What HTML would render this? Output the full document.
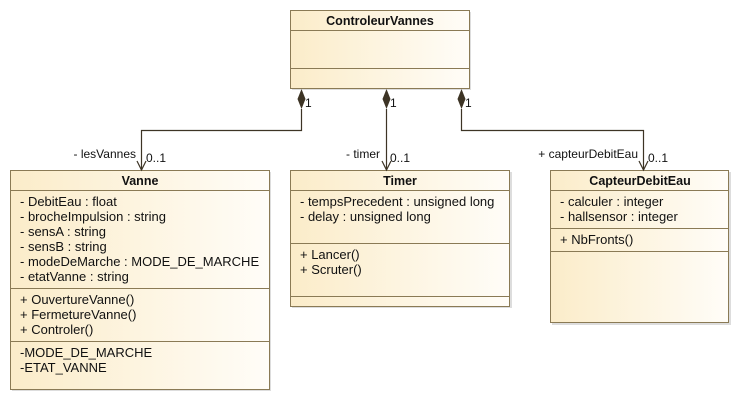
<!DOCTYPE html>
<html><head><meta charset="utf-8"><style>
html,body{margin:0;padding:0;background:#fff;}
svg{display:block;}
text{font-family:"Liberation Sans",sans-serif;font-size:13px;fill:#111;}
.b{font-weight:bold;font-size:12.5px;}
.l{font-size:12px;}
</style></head><body>
<svg width="741" height="401" viewBox="0 0 741 401" xmlns="http://www.w3.org/2000/svg">
<defs>
<linearGradient id="g" x1="0" x2="1" y1="0" y2="0">
<stop offset="0" stop-color="#fbecc9"/><stop offset="1" stop-color="#fffdf8"/>
</linearGradient>
</defs>
<g stroke="#8a7a55" stroke-width="1">
<!-- shadows -->
<rect x="292" y="12" width="179" height="78" fill="#ddd" stroke="none"/>
<rect x="12" y="172" width="259" height="219" fill="#ddd" stroke="none"/>
<rect x="292" y="172" width="220" height="136" fill="#ddd" stroke="none"/>
<rect x="552" y="172" width="179" height="153" fill="#ddd" stroke="none"/>
<rect x="290.5" y="10.5" width="179" height="78" fill="url(#g)"/>
<line x1="290" y1="30.5" x2="470" y2="30.5"/><line x1="290" y1="68.5" x2="470" y2="68.5"/>
<rect x="10.5" y="170.5" width="259" height="219" fill="url(#g)"/>
<line x1="10" y1="190.5" x2="270" y2="190.5"/><line x1="10" y1="288.5" x2="270" y2="288.5"/><line x1="10" y1="341.5" x2="270" y2="341.5"/>
<rect x="290.5" y="170.5" width="219" height="136" fill="url(#g)"/>
<line x1="290" y1="190.5" x2="510" y2="190.5"/><line x1="290" y1="243.5" x2="510" y2="243.5"/><line x1="290" y1="296.5" x2="510" y2="296.5"/>
<rect x="550.5" y="170.5" width="178" height="152" fill="url(#g)"/>
<line x1="550" y1="190.5" x2="729" y2="190.5"/><line x1="550" y1="228.5" x2="729" y2="228.5"/><line x1="550" y1="251.5" x2="729" y2="251.5"/>
</g>
<g stroke="#3d3425" fill="none" stroke-width="1.2">
<polyline points="301.5,109 301.5,130.5 141.5,130.5 141.5,170"/>
<line x1="386.5" y1="109" x2="386.5" y2="170"/>
<polyline points="461.5,109 461.5,130.5 643.5,130.5 643.5,170"/>
<polyline points="137,161 141.5,170 146,161"/>
<polyline points="382,161 386.5,170 391,161"/>
<polyline points="639,161 643.5,170 648,161"/>
</g>
<g fill="#3d3425">
<polygon points="301.5,89 305.5,99 301.5,109 297.5,99"/>
<polygon points="386.5,89 390.5,99 386.5,109 382.5,99"/>
<polygon points="461.5,89 465.5,99 461.5,109 457.5,99"/>
</g>
<text class="l" x="305" y="107">1</text>
<text class="l" x="390" y="107">1</text>
<text class="l" x="465" y="107">1</text>
<text class="l" x="136" y="158" text-anchor="end">- lesVannes</text>
<text class="l" x="146" y="162">0..1</text>
<text class="l" x="380" y="158" text-anchor="end">- timer</text>
<text class="l" x="390" y="162">0..1</text>
<text class="l" x="638" y="158" text-anchor="end">+ capteurDebitEau</text>
<text class="l" x="648" y="162">0..1</text>
<text class="b" x="380" y="25" text-anchor="middle">ControleurVannes</text>
<text class="b" x="140" y="185" text-anchor="middle">Vanne</text>
<text class="b" x="400" y="185" text-anchor="middle">Timer</text>
<text class="b" x="640" y="185" text-anchor="middle">CapteurDebitEau</text>
<text x="20" y="206">- DebitEau : float</text>
<text x="20" y="221">- brocheImpulsion : string</text>
<text x="20" y="236">- sensA : string</text>
<text x="20" y="251">- sensB : string</text>
<text x="20" y="266">- modeDeMarche : MODE_DE_MARCHE</text>
<text x="20" y="281">- etatVanne : string</text>
<text x="20" y="304">+ OuvertureVanne()</text>
<text x="20" y="319">+ FermetureVanne()</text>
<text x="20" y="334">+ Controler()</text>
<text x="20" y="357">-MODE_DE_MARCHE</text>
<text x="20" y="372">-ETAT_VANNE</text>
<text x="300" y="206">- tempsPrecedent : unsigned long</text>
<text x="300" y="221">- delay : unsigned long</text>
<text x="300" y="259">+ Lancer()</text>
<text x="300" y="274">+ Scruter()</text>
<text x="560" y="206">- calculer : integer</text>
<text x="560" y="221">- hallsensor : integer</text>
<text x="560" y="244">+ NbFronts()</text>
</svg>
</body></html>
